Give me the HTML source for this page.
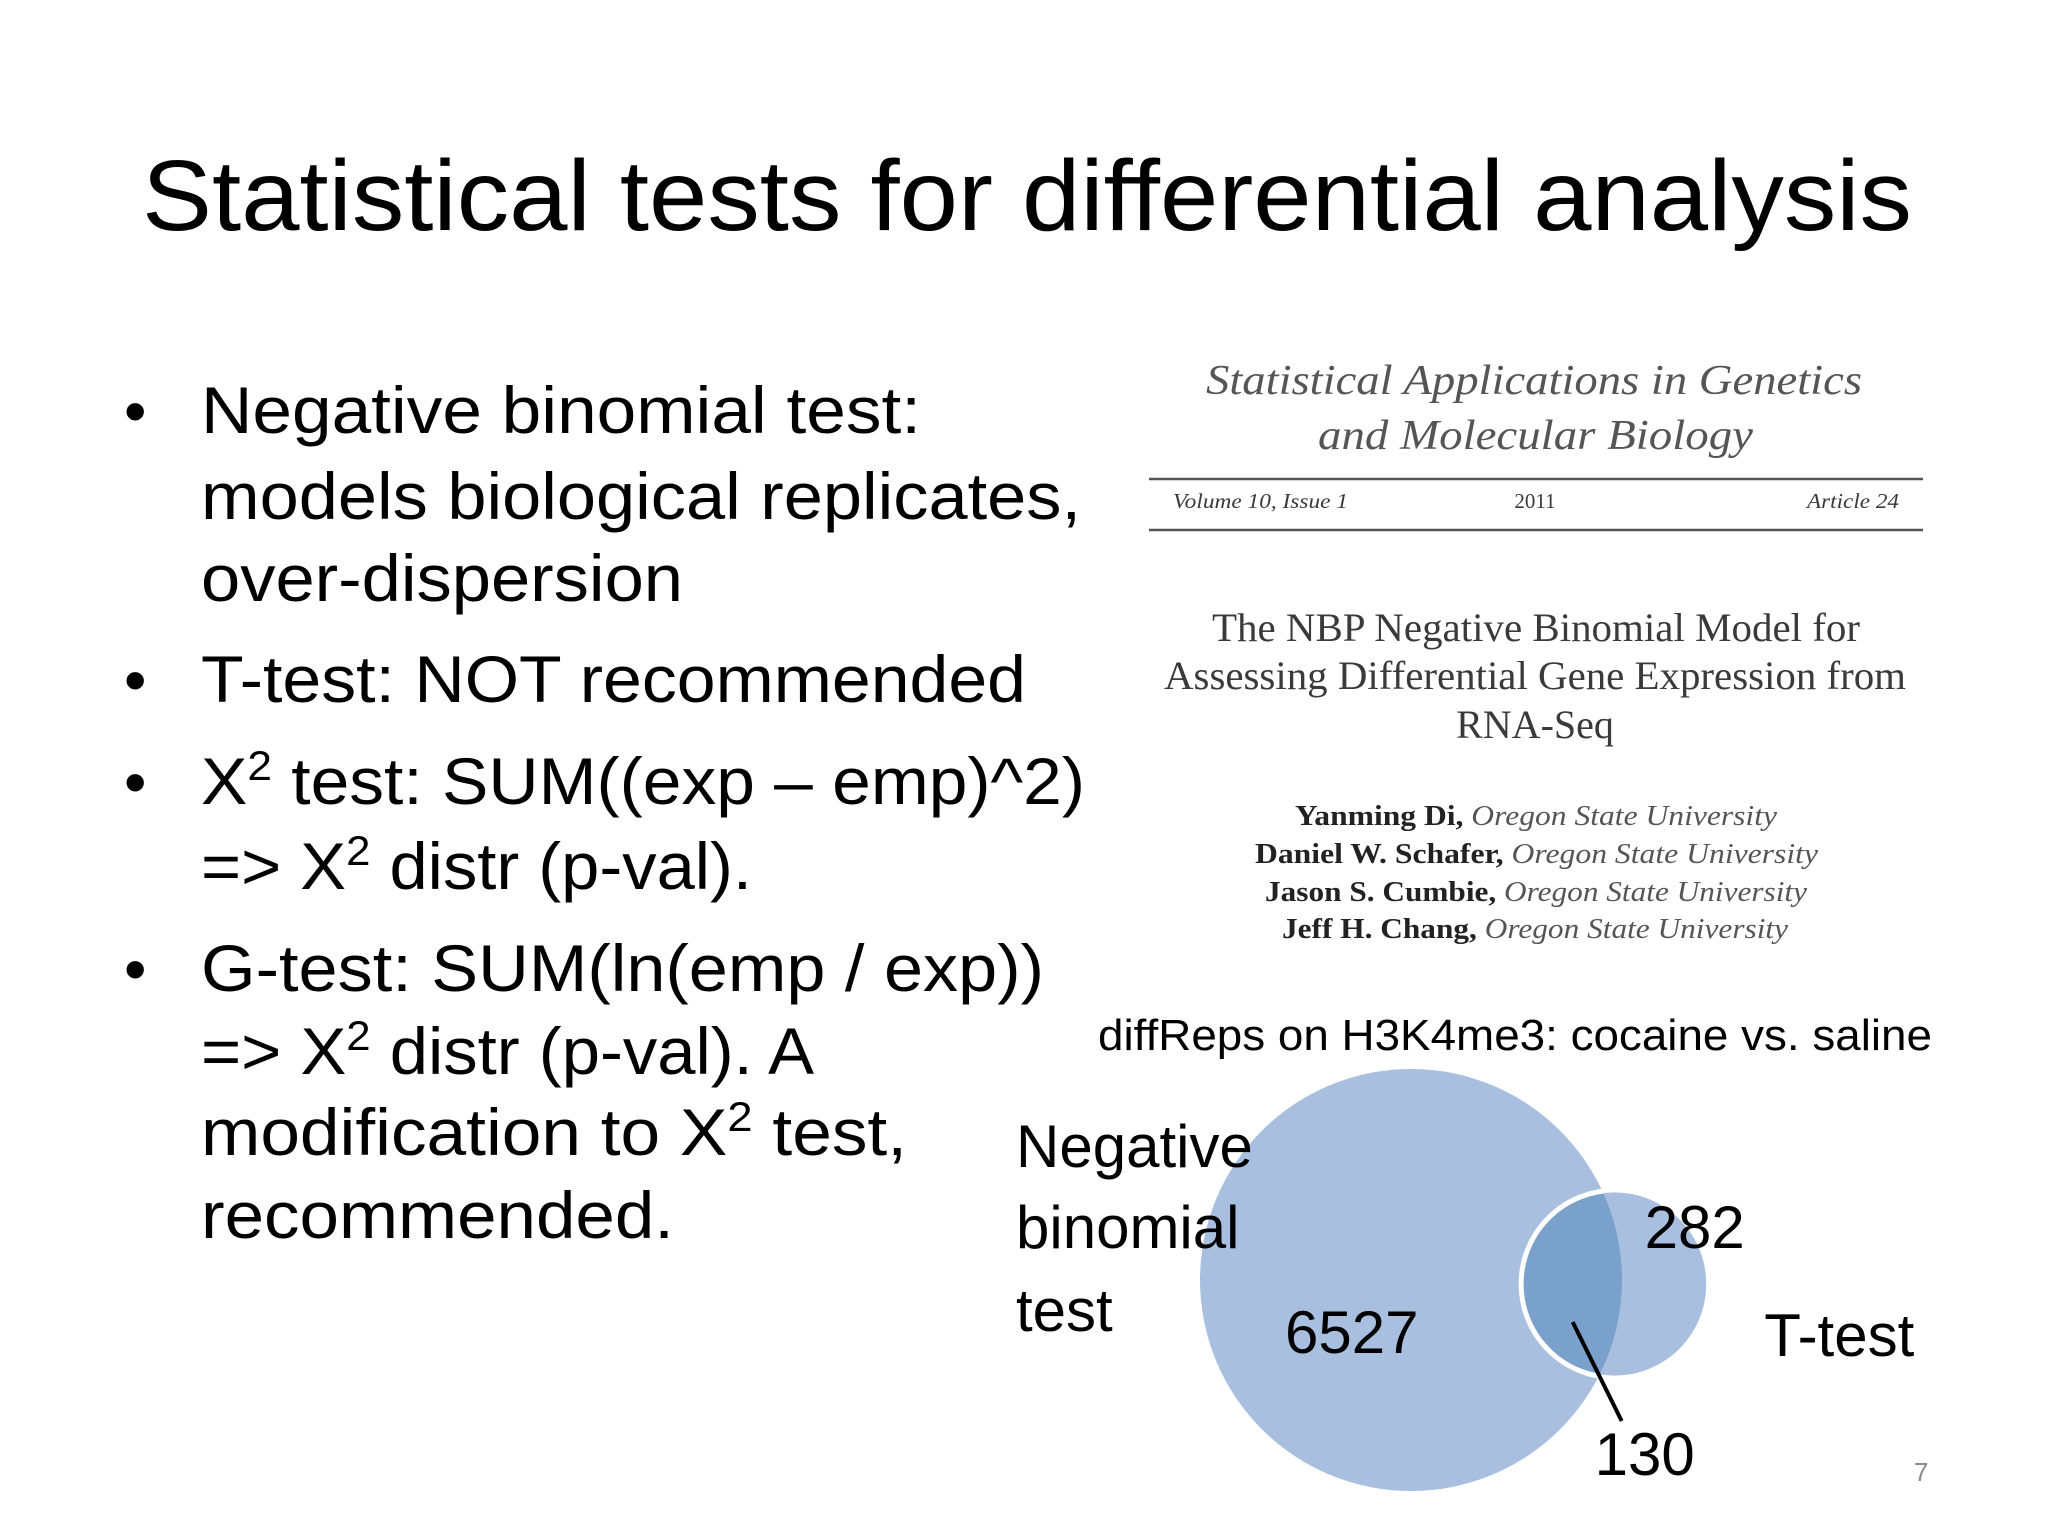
<!DOCTYPE html>
<html><head><meta charset="utf-8"><style>
html,body{margin:0;padding:0;background:#fff}
svg{display:block}
.cal{font-family:"Liberation Sans",sans-serif;fill:#000}
.ser{font-family:"Liberation Serif",serif;fill:#3a3a3a}
</style></head><body>
<svg id="slide" width="2048" height="1536" viewBox="0 0 2048 1536" xmlns="http://www.w3.org/2000/svg">
<rect width="2048" height="1536" fill="#fff"/>
<text class="cal" x="142" y="230" font-size="100" textLength="1770" lengthAdjust="spacingAndGlyphs">Statistical tests for differential analysis</text>

<g class="cal" font-size="66">
<text x="124" y="433" font-size="64">•</text>
<text x="201" y="433" textLength="720" lengthAdjust="spacingAndGlyphs">Negative binomial test:</text>
<text x="201" y="519" textLength="880" lengthAdjust="spacingAndGlyphs">models biological replicates,</text>
<text x="201" y="601" textLength="482" lengthAdjust="spacingAndGlyphs">over-dispersion</text>
<text x="124" y="702" font-size="64">•</text>
<text x="201" y="702" textLength="825" lengthAdjust="spacingAndGlyphs">T-test: NOT recommended</text>
<text x="124" y="804" font-size="64">•</text>
<text x="201" y="804" textLength="884" lengthAdjust="spacingAndGlyphs">X<tspan font-size="42" dy="-24">2</tspan><tspan dy="24"> test: SUM((exp – emp)^2)</tspan></text>
<text x="201" y="889" textLength="551" lengthAdjust="spacingAndGlyphs">=&gt; X<tspan font-size="42" dy="-24">2</tspan><tspan dy="24"> distr (p-val).</tspan></text>
<text x="124" y="991" font-size="64">•</text>
<text x="201" y="991" textLength="843" lengthAdjust="spacingAndGlyphs">G-test: SUM(ln(emp / exp))</text>
<text x="201" y="1074" textLength="613" lengthAdjust="spacingAndGlyphs">=&gt; X<tspan font-size="42" dy="-24">2</tspan><tspan dy="24"> distr (p-val). A</tspan></text>
<text x="201" y="1155" textLength="706" lengthAdjust="spacingAndGlyphs">modification to X<tspan font-size="42" dy="-24">2</tspan><tspan dy="24"> test,</tspan></text>
<text x="201" y="1238" textLength="473" lengthAdjust="spacingAndGlyphs">recommended.</text>
</g>

<g>
<text class="ser" font-style="italic" x="1206" y="394" font-size="42" textLength="656" lengthAdjust="spacingAndGlyphs" style="fill:#555">Statistical Applications in Genetics</text>
<text class="ser" font-style="italic" x="1318" y="449" font-size="42" textLength="435" lengthAdjust="spacingAndGlyphs" style="fill:#555">and Molecular Biology</text>
<line x1="1149" y1="479" x2="1923" y2="479" stroke="#555" stroke-width="2.5"/>
<text class="ser" font-style="italic" x="1173" y="508" font-size="21" textLength="175" lengthAdjust="spacingAndGlyphs">Volume 10, Issue 1</text>
<text class="ser" x="1535" y="508" font-size="21" text-anchor="middle">2011</text>
<text class="ser" font-style="italic" x="1807" y="508" font-size="21" textLength="92" lengthAdjust="spacingAndGlyphs">Article 24</text>
<line x1="1149" y1="530" x2="1923" y2="530" stroke="#555" stroke-width="2.5"/>
<text class="ser" x="1212" y="641" font-size="40" textLength="648" lengthAdjust="spacingAndGlyphs">The NBP Negative Binomial Model for</text>
<text class="ser" x="1164" y="689" font-size="40" textLength="742" lengthAdjust="spacingAndGlyphs">Assessing Differential Gene Expression from</text>
<text class="ser" x="1535" y="738" font-size="40" text-anchor="middle">RNA-Seq</text>
<g font-size="29" class="ser">
<text x="1295" y="825" textLength="482" lengthAdjust="spacingAndGlyphs"><tspan font-weight="bold" style="fill:#222">Yanming Di,</tspan><tspan font-style="italic" style="fill:#555"> Oregon State University</tspan></text>
<text x="1255" y="863" textLength="563" lengthAdjust="spacingAndGlyphs"><tspan font-weight="bold" style="fill:#222">Daniel W. Schafer,</tspan><tspan font-style="italic" style="fill:#555"> Oregon State University</tspan></text>
<text x="1265" y="901" textLength="542" lengthAdjust="spacingAndGlyphs"><tspan font-weight="bold" style="fill:#222">Jason S. Cumbie,</tspan><tspan font-style="italic" style="fill:#555"> Oregon State University</tspan></text>
<text x="1282" y="938" textLength="506" lengthAdjust="spacingAndGlyphs"><tspan font-weight="bold" style="fill:#222">Jeff H. Chang,</tspan><tspan font-style="italic" style="fill:#555"> Oregon State University</tspan></text>
</g>
</g>

<text class="cal" x="1098" y="1050" font-size="44" textLength="834" lengthAdjust="spacingAndGlyphs">diffReps on H3K4me3: cocaine vs. saline</text>
<g id="venn"></g>
<text class="cal" x="1914" y="1481" font-size="26" style="fill:#8c8c8c">7</text>
</svg>
<script>
const setNames = ["Negative binomial test", "T-test"];
const onlyCounts = [6527, 282];
const overlapCount = [130];
const ns = "http://www.w3.org/2000/svg";
const g = document.getElementById('venn');
function mk(tag, attrs){const e=document.createElementNS(ns,tag);for(const k in attrs)e.setAttribute(k,attrs[k]);g.appendChild(e);return e;}
const totA = onlyCounts[0] + overlapCount[0];
const totB = onlyCounts[1] + overlapCount[0];
const rMax = 211;
function rScale(v){return rMax*Math.pow(v/totA,0.3);}
const rA = rScale(totA), rB = rScale(totB);
const cA = {x:1411, y:1280};
const overlapDepth = 2*rB*0.54;
const cB = {x:cA.x + rA + rB - overlapDepth, y:1284};
const defs = mk('defs',{});
const cp = document.createElementNS(ns,'clipPath'); cp.setAttribute('id','clipA'); defs.appendChild(cp);
const cpc = document.createElementNS(ns,'circle'); cpc.setAttribute('cx',cA.x); cpc.setAttribute('cy',cA.y); cpc.setAttribute('r',rA); cp.appendChild(cpc);
const circA = mk('circle',{cx:cA.x,cy:cA.y,r:rA,fill:'#a9bfdf'});


const circB = mk('circle',{cx:cB.x,cy:cB.y,r:rB,fill:'#a9bfdf'});


const inter = mk('circle',{cx:cB.x,cy:cB.y,r:rB,fill:'#7aa0cc','clip-path':'url(#clipA)'});


const outl = mk('circle',{cx:cB.x,cy:cB.y,r:rB+2,fill:'none',stroke:'#fff','stroke-width':5,'clip-path':'url(#clipA)'});


function label(txt,x,y,name,size){const t=mk('text',{x:x,y:y,'font-size':size||60,'font-family':'"Liberation Sans",sans-serif',fill:'#000'});t.textContent=txt;


return t;}
const nbWords = setNames[0].split(' ');
label(nbWords[0], 1016, 1167, 'set-label-nb-1');
label(nbWords[1], 1016, 1248, 'set-label-nb-2');
label(nbWords[2], 1016, 1331, 'set-label-nb-3');
label(setNames[1], cB.x+rB+58, 1356, 'set-label-ttest');
label(String(onlyCounts[0]), cA.x-126, 1353, 'count-nb-only');
label(String(onlyCounts[1]), cB.x+30, 1248, 'count-ttest-only');
label(String(overlapCount[0]), cB.x-20, 1475, 'count-overlap');
const ln = mk('line',{x1:cB.x-42,y1:cB.y+38,x2:cB.x+7,y2:cB.y+137,stroke:'#000','stroke-width':4});


</script>
</body></html>
